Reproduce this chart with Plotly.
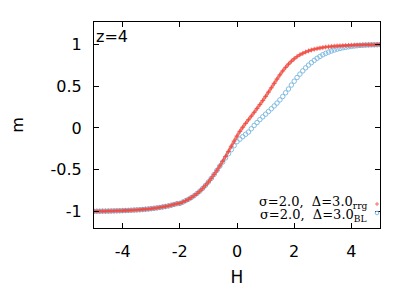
import plotly.graph_objects as go

# ---- data ----
H = [round(-5.0 + 0.1 * i, 1) for i in range(101)]

m_rrg = [
    -1.000, -0.999, -0.999, -0.998, -0.998, -0.997, -0.996, -0.995, -0.994, -0.993,
    -0.992, -0.990, -0.989, -0.987, -0.985, -0.983, -0.981, -0.978, -0.975, -0.972,
    -0.968, -0.964, -0.959, -0.954, -0.948, -0.942, -0.935, -0.927, -0.918, -0.908,
    -0.905, -0.890, -0.873, -0.856, -0.836, -0.813, -0.787, -0.758, -0.725, -0.688,
    -0.648, -0.605, -0.558, -0.508, -0.456, -0.400, -0.342, -0.282, -0.220, -0.158,
    -0.098, -0.042, 0.008, 0.054, 0.098, 0.142, 0.187, 0.233, 0.280, 0.328,
    0.378, 0.429, 0.481, 0.534, 0.586, 0.636, 0.683, 0.726, 0.765, 0.799,
    0.829, 0.855, 0.877, 0.895, 0.910, 0.923, 0.934, 0.943, 0.951, 0.958,
    0.964, 0.969, 0.973, 0.977, 0.980, 0.983, 0.985, 0.987, 0.989, 0.990,
    0.992, 0.993, 0.994, 0.995, 0.996, 0.997, 0.997, 0.998, 0.998, 0.999,
    0.999,
]

m_bl = [
    -1.000, -0.999, -0.999, -0.998, -0.998, -0.997, -0.996, -0.995, -0.994, -0.993,
    -0.992, -0.990, -0.989, -0.987, -0.985, -0.983, -0.981, -0.978, -0.975, -0.972,
    -0.968, -0.964, -0.959, -0.954, -0.948, -0.942, -0.935, -0.927, -0.918, -0.908,
    -0.905, -0.890, -0.873, -0.856, -0.836, -0.813, -0.787, -0.758, -0.725, -0.688,
    -0.648, -0.605, -0.558, -0.508, -0.458, -0.410, -0.360, -0.310, -0.262, -0.213,
    -0.165, -0.135, -0.105, -0.077, -0.050, -0.010, 0.030, 0.065, 0.100, 0.133,
    0.165, 0.197, 0.230, 0.263, 0.298, 0.336, 0.377, 0.421, 0.467, 0.514,
    0.560, 0.604, 0.645, 0.684, 0.720, 0.753, 0.783, 0.810, 0.835, 0.857,
    0.877, 0.894, 0.909, 0.922, 0.934, 0.944, 0.953, 0.961, 0.967, 0.973,
    0.978, 0.982, 0.986, 0.989, 0.991, 0.993, 0.995, 0.996, 0.997, 0.998,
    0.999,
]

x_ticks = [-4, -2, 0, 2, 4]
y_ticks = [-1, -0.5, 0, 0.5, 1]
y_tick_text = ["-1", "-0.5", "0", "0.5", "1"]
x_tick_text = ["-4", "-2", "0", "2", "4"]

label_rrg = "σ=2.0,  Δ=3.0<sub>rrg</sub>"
label_bl = "σ=2.0,  Δ=3.0<sub>BL</sub>"
panel_label = "z=4"

RED = "rgba(240,70,60,0.72)"
BLUE = "rgb(130,188,228)"

fig = go.Figure()
fig.add_trace(go.Scatter(
    x=H, y=m_bl, mode="markers",
    marker=dict(symbol="circle-open", size=4.5, color=BLUE, line=dict(width=1, color=BLUE)),
    showlegend=False, hoverinfo="skip",
))
fig.add_trace(go.Scatter(
    x=H, y=m_rrg, mode="lines+markers",
    line=dict(color=RED, width=3, shape="spline"),
    marker=dict(symbol="cross-thin-open", size=3.5, color=RED, line=dict(width=1, color=RED)),
    showlegend=False, hoverinfo="skip",
))

sans = "DejaVu Sans, sans-serif"
serif = "DejaVu Serif, serif"

axis_common = dict(
    showgrid=False, zeroline=False, automargin=False,
    showline=True, linecolor="black", linewidth=1, mirror="ticks",
    ticks="inside", ticklen=5, tickwidth=1, tickcolor="black",
    tickfont=dict(family=sans, size=16, color="black"),
)

fig.update_layout(
    width=415, height=290,
    margin=dict(l=94, r=35, t=22, b=62, autoexpand=False),
    paper_bgcolor="white", plot_bgcolor="white",
    xaxis=dict(range=[-5, 5], tickvals=x_ticks, ticktext=x_tick_text,
               title=dict(text="H", font=dict(family=sans, size=17, color="black"), standoff=10),
               ticklabelstandoff=9, **axis_common),
    yaxis=dict(range=[-1.2, 1.27], tickvals=y_ticks, ticktext=y_tick_text,
               title=dict(text="m", font=dict(family=sans, size=16, color="black"), standoff=22),
               ticklabelstandoff=8, **axis_common),
    showlegend=False,
)

# panel label
fig.add_annotation(x=0.0, y=0.985, xref="paper", yref="paper", text=panel_label,
                   showarrow=False, xanchor="left", yanchor="top",
                   font=dict(family=sans, size=16, color="black"))

# gnuplot-style key: text right-aligned, sample to the right
fig.add_annotation(x=0.962, y=0.122, xref="paper", yref="paper", text=label_rrg,
                   showarrow=False, xanchor="right", yanchor="middle",
                   font=dict(family=serif, size=13, color="black"))
fig.add_annotation(x=0.962, y=0.060, xref="paper", yref="paper", text=label_bl,
                   showarrow=False, xanchor="right", yanchor="middle",
                   font=dict(family=serif, size=13, color="black"))

# key samples
px_x = 0.9895
fig.add_shape(type="line", xref="paper", yref="paper", x0=px_x - 0.007, x1=px_x + 0.007,
              y0=0.1165, y1=0.1165, line=dict(color=RED, width=1))
fig.add_shape(type="line", xref="paper", yref="paper", x0=px_x, x1=px_x,
              y0=0.1165 - 0.0097, y1=0.1165 + 0.0097, line=dict(color=RED, width=1))
fig.add_shape(type="circle", xref="paper", yref="paper", x0=px_x - 0.0063, x1=px_x + 0.0063,
              y0=0.0728 - 0.0087, y1=0.0728 + 0.0087, line=dict(color=BLUE, width=1))

fig.write_html("out.html", config={"displayModeBar": False},
               post_script="document.body.style.margin='0px';document.body.style.overflow='hidden';")
